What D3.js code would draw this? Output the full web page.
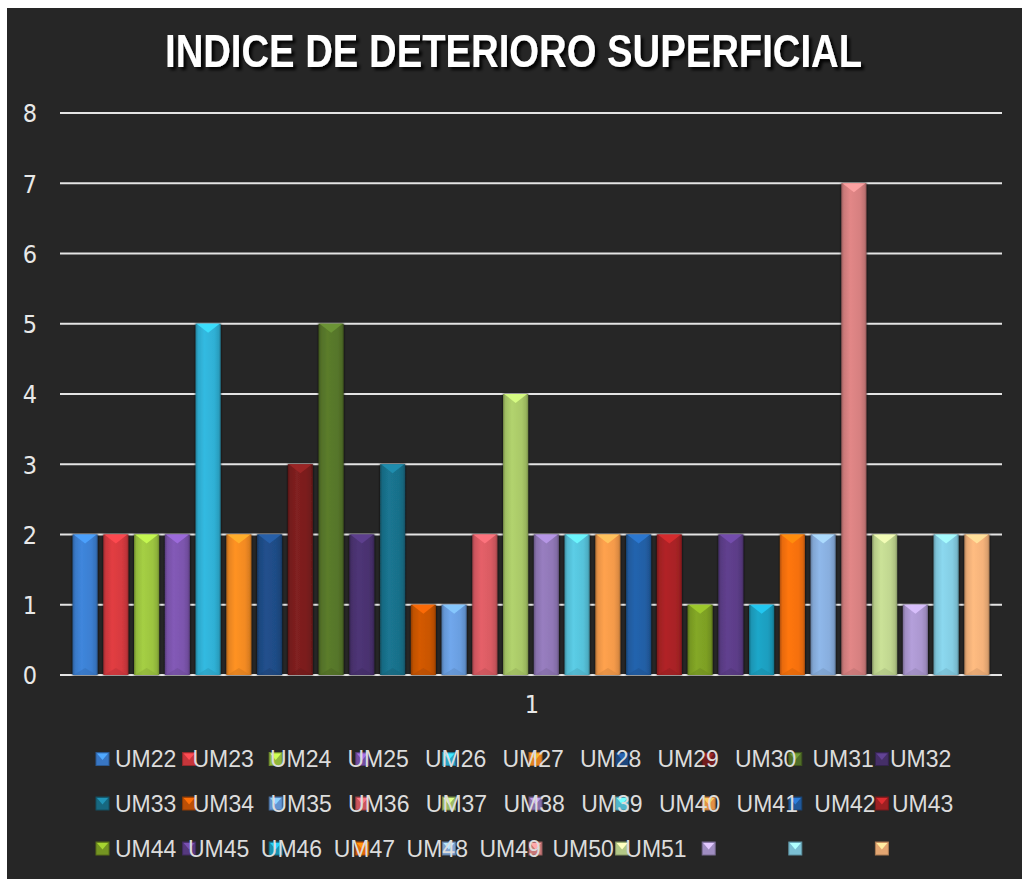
<!DOCTYPE html>
<html>
<head>
<meta charset="utf-8">
<script src="https://cdn.jsdelivr.net/npm/d3@7"></script>
<style>
  html, body { margin: 0; padding: 0; background: #ffffff; }
  svg { display: block; }
</style>
</head>
<body>
<svg id="chart" width="1022" height="879"></svg>
<script>
// Series names (one bar per unit of sampling)
const series = [
  "UM22","UM23","UM24","UM25","UM26","UM27","UM28","UM29","UM30","UM31",
  "UM32","UM33","UM34","UM35","UM36","UM37","UM38","UM39","UM40","UM41",
  "UM42","UM43","UM44","UM45","UM46","UM47","UM48","UM49","UM50","UM51"
];
// Surface deterioration index for each unit
const values = [
  2, 2, 2, 2, 5, 2, 2, 3, 5, 2,
  3, 1, 1, 2, 4, 2, 2, 2, 2, 2,
  1, 2, 1, 2, 2, 7, 2, 1, 2, 2
];
// Single category on the x axis
const categories = ["1"];
// Y-axis ticks
const yTicks = [0, 1, 2, 3, 4, 5, 6, 7, 8];
// Series colours
const colors = [
  "#3c7fd1","#d63a3f","#9cc440","#7c55ad","#2fb0d5","#f28a22",
  "#1f4c86","#7a1e1e","#56762a","#4a3270","#19708a","#c95506",
  "#6a9ee0","#d95b63","#a9c868","#9077b6","#56c2da","#f49a4a",
  "#225fa5","#a82225","#7d9f24","#5c3d88","#1b9ebf","#f5700a",
  "#88aede","#d68080","#c0d690","#ab97cf","#84cde3","#f4b27a"
];
// Legend: three rows of labels
const legendRows = [
  series.slice(0, 11),
  series.slice(11, 22),
  series.slice(22, 30)
];

const svg = d3.select("#chart");
const W = 1022, H = 879;

// Chart background
svg.append("rect")
  .attr("x", 7).attr("y", 8)
  .attr("width", W - 7).attr("height", H - 8)
  .attr("fill", "#262626");

const defs = svg.append("defs");

// Title shadow
const tf = defs.append("filter").attr("id", "titleShadow")
  .attr("filterUnits", "userSpaceOnUse")
  .attr("x", 100).attr("y", 10).attr("width", 830).attr("height", 80);
tf.append("feDropShadow")
  .attr("dx", 3).attr("dy", 3).attr("stdDeviation", 1.8)
  .attr("flood-color", "#000").attr("flood-opacity", 0.9);

// Bar shadow (separates bars from grid lines)
const bf = defs.append("filter").attr("id", "barShadow")
  .attr("x", "-30%").attr("y", "-5%").attr("width", "160%").attr("height", "110%");
bf.append("feDropShadow")
  .attr("dx", 0).attr("dy", 0).attr("stdDeviation", 1.2)
  .attr("flood-color", "#111").attr("flood-opacity", 1);

// Glossy horizontal gradient per colour
colors.forEach((c, i) => {
  const base = d3.color(c);
  const g = defs.append("linearGradient").attr("id", "grad" + i)
    .attr("x1", "0%").attr("x2", "100%").attr("y1", "0%").attr("y2", "0%");
  g.append("stop").attr("offset", "0%").attr("stop-color", base.darker(0.9));
  g.append("stop").attr("offset", "10%").attr("stop-color", base.darker(0.15));
  g.append("stop").attr("offset", "35%").attr("stop-color", base.brighter(0.15));
  g.append("stop").attr("offset", "75%").attr("stop-color", base);
  g.append("stop").attr("offset", "92%").attr("stop-color", base.darker(0.3));
  g.append("stop").attr("offset", "100%").attr("stop-color", base.darker(1.0));
});

// Title
svg.append("text")
  .attr("x", 513.5).attr("y", 67)
  .attr("text-anchor", "middle")
  .attr("font-family", "'Liberation Sans Narrow', 'Liberation Sans', Arial, sans-serif")
  .attr("font-weight", "bold")
  .attr("font-size", 47)
  .attr("fill", "#ffffff")
  .attr("textLength", 697)
  .attr("lengthAdjust", "spacingAndGlyphs")
  .attr("filter", "url(#titleShadow)")
  .text("INDICE DE DETERIORO SUPERFICIAL");

// Scales
const plot = { left: 60, right: 1002, top: 113, bottom: 675 };
const y = d3.scaleLinear().domain([0, 8]).range([plot.bottom, plot.top]);
const x0 = d3.scaleBand().domain(categories).range([plot.left, plot.right]).padding(0);
const x1 = d3.scaleBand().domain(series).range([0, x0.bandwidth()])
  .paddingInner(0.187).paddingOuter(0.41);

// Grid lines
svg.append("g")
  .selectAll("line")
  .data(yTicks)
  .join("line")
  .attr("x1", plot.left).attr("x2", plot.right)
  .attr("y1", d => y(d)).attr("y2", d => y(d))
  .attr("stroke", "#e4e4e4")
  .attr("stroke-width", 2);

// Y axis labels
const yAxis = d3.axisLeft(y).tickValues(yTicks).tickSize(0).tickPadding(0);
const yg = svg.append("g").attr("transform", "translate(37,0)").call(yAxis);
yg.select(".domain").remove();
yg.selectAll("text")
  .attr("font-family", "'Liberation Sans Narrow', 'DejaVu Sans Condensed', 'Liberation Sans', sans-serif")
  .attr("font-size", 25)
  .attr("fill", "#e8e8e8")
  .attr("dy", "0.35em");

// X axis label
const xAxis = d3.axisBottom(x0).tickSize(0).tickPadding(0);
const xg = svg.append("g").attr("transform", "translate(1,700)").call(xAxis);
xg.select(".domain").remove();
xg.selectAll("text")
  .attr("font-family", "'Liberation Sans Narrow', 'DejaVu Sans Condensed', 'Liberation Sans', sans-serif")
  .attr("font-size", 25)
  .attr("fill", "#e8e8e8")
  .attr("dy", "0.5em");

// Bars
const data = series.map((s, i) => ({ name: s, value: values[i], color: colors[i], idx: i }));
const barG = svg.append("g").attr("transform", `translate(${x0(categories[0])},0)`);
const bar = barG.selectAll("g.bar")
  .data(data)
  .join("g").attr("class", "bar");

bar.append("rect")
  .attr("x", d => x1(d.name))
  .attr("y", d => y(d.value))
  .attr("width", x1.bandwidth())
  .attr("height", d => y(0) - y(d.value))
  .attr("fill", d => `url(#grad${d.idx})`)
  .attr("filter", "url(#barShadow)");

// Bevelled top cap
bar.append("path")
  .attr("d", d => {
    const bx = x1(d.name), bw = x1.bandwidth(), by = y(d.value);
    return `M${bx + 1},${by} L${bx + bw - 1},${by} L${bx + bw / 2},${by + 9} Z`;
  })
  .attr("fill", d => d3.color(d.color).brighter(0.7))
  .attr("opacity", 0.9);

// Bottom edge shading
bar.append("path")
  .attr("d", d => {
    const bx = x1(d.name), bw = x1.bandwidth(), by = y(0);
    return `M${bx + 1},${by} L${bx + bw - 1},${by} L${bx + bw / 2},${by - 7} Z`;
  })
  .attr("fill", d => d3.color(d.color).darker(0.4))
  .attr("opacity", 0.5);

// Legend markers: 10 per row
const markerX0 = 96, markerStep = 86.6, markerRowY = [759, 803.5, 848.5], ms = 13;
const legM = svg.append("g").selectAll("g")
  .data(data)
  .join("g")
  .attr("transform", d => {
    const col = d.idx % 10, row = Math.floor(d.idx / 10);
    return `translate(${markerX0 + col * markerStep},${markerRowY[row] - ms / 2})`;
  });
legM.append("rect")
  .attr("width", ms).attr("height", ms)
  .attr("fill", d => d3.color(d.color).darker(0.2))
  .attr("stroke", d => d3.color(d.color).darker(1))
  .attr("stroke-width", 1);
legM.append("path")
  .attr("d", `M1,1 L${ms - 1},1 L${ms / 2},${ms / 2 + 1} Z`)
  .attr("fill", d => d3.color(d.color).brighter(0.8));

// Legend labels: three rows
const labelX0 = 115, labelSteps = [77.5, 77.7, 72.9], labelBaseY = [767, 812, 857];
legendRows.forEach((row, r) => {
  svg.append("g").selectAll("text")
    .data(row)
    .join("text")
    .attr("x", (d, i) => labelX0 + i * labelSteps[r])
    .attr("y", labelBaseY[r])
    .attr("font-family", "'Liberation Sans', Arial, sans-serif")
    .attr("font-size", 23)
    .attr("fill", "#dcdcdc")
    .text(d => d);
});
</script>
</body>
</html>
